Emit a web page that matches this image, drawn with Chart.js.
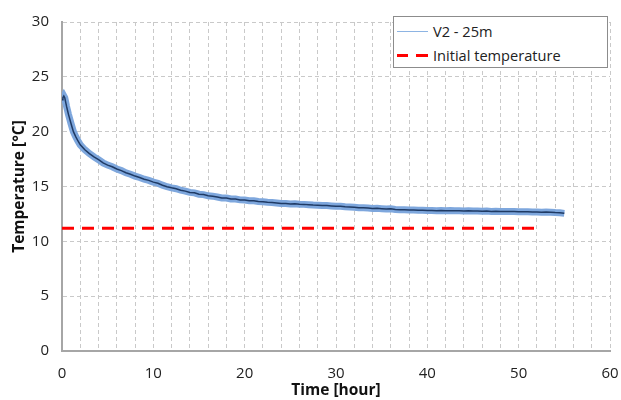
<!DOCTYPE html>
<html>
<head>
<meta charset="utf-8">
<script src="https://cdn.jsdelivr.net/npm/chart.js@4"></script>
<style>
  body { margin: 0; background: #fff; }
  #wrap { position: relative; width: 621px; height: 400px; }
  #legend {
    position: absolute; left: 393px; top: 16px; width: 215px; height: 52px;
    border: 1px solid #8c8c8c; background: #fff; box-sizing: border-box;
    font-family: "Open Sans", sans-serif; font-size: 14.6px; color: #222;
  }
  #legend .row { position: absolute; left: 3px; height: 20px; line-height: 20px; white-space: nowrap; }
  #legend .sample { position: absolute; left: 0; top: 10px; width: 31px; }
  #legend .txt { position: absolute; left: 36px; top: 0; }
</style>
</head>
<body>
<div id="wrap">
  <canvas id="canvas" width="621" height="400"></canvas>
  <div id="legend"></div>
</div>
<script>
// measured temperature, V2 - 25m
var time = [0, 0.1, 0.2, 0.3, 0.4, 0.5, 0.6, 0.7, 0.8, 1, 1.25, 1.5, 1.75, 2, 2.5, 3, 3.5, 4, 4.5, 5,
  5.5, 6, 6.5, 7, 7.5, 8, 8.5, 9, 9.5, 10, 10.5, 11, 11.5, 12, 12.5, 13, 13.5, 14, 14.5, 15,
  15.5, 16, 16.5, 17, 17.5, 18, 18.5, 19, 19.5, 20, 20.5, 21, 21.5, 22, 22.5, 23, 23.5, 24, 24.5, 25,
  25.5, 26, 26.5, 27, 27.5, 28, 28.5, 29, 29.5, 30, 30.5, 31, 31.5, 32, 32.5, 33, 33.5, 34, 34.5, 35,
  35.5, 36, 36.5, 37, 37.5, 38, 38.5, 39, 39.5, 40, 40.5, 41, 41.5, 42, 42.5, 43, 43.5, 44, 44.5, 45,
  45.5, 46, 46.5, 47, 47.5, 48, 48.5, 49, 49.5, 50, 50.5, 51, 51.5, 52, 52.5, 53, 53.5, 54, 54.5, 55];
var temp = [22.9, 23.1, 23.25, 23.1, 22.7, 22.3, 21.95, 21.6, 21.3, 20.7, 20.0, 19.55, 19.15, 18.8, 18.35, 18.0, 17.7, 17.45, 17.15, 16.95,
  16.8, 16.6, 16.45, 16.25, 16.12, 15.95, 15.82, 15.66, 15.56, 15.4, 15.3, 15.12, 14.98, 14.88, 14.8, 14.66, 14.58, 14.46, 14.42, 14.3,
  14.26, 14.15, 14.12, 14.04, 13.96, 13.95, 13.86, 13.85, 13.78, 13.76, 13.71, 13.7, 13.64, 13.6, 13.56, 13.55, 13.5, 13.45, 13.44, 13.4,
  13.43, 13.38, 13.37, 13.34, 13.31, 13.3, 13.26, 13.26, 13.23, 13.2, 13.19, 13.15, 13.13, 13.1, 13.06, 13.06, 13.03, 13.0, 13.01, 12.98,
  12.95, 12.96, 12.91, 12.88, 12.89, 12.86, 12.85, 12.83, 12.84, 12.81, 12.82, 12.8, 12.81, 12.79, 12.8, 12.78, 12.79, 12.77, 12.78, 12.76,
  12.77, 12.75, 12.76, 12.73, 12.74, 12.72, 12.73, 12.71, 12.72, 12.7, 12.7, 12.69, 12.68, 12.68, 12.66, 12.67, 12.65, 12.62, 12.6, 12.55];

// initial ground temperature
var initTime = [0, 52.2];
var initTemp = [11.2, 11.2];

var xTicks = [0, 10, 20, 30, 40, 50, 60];
var yTicks = [0, 5, 10, 15, 20, 25, 30];

var pts = time.map((t, i) => ({ x: t, y: temp[i] }));
var initPts = initTime.map((t, i) => ({ x: t, y: initTemp[i] }));

const FONT = '"Open Sans", sans-serif';
const GRID = '#c9c9c9';
const AXIS = '#a6a6a6';

const ctx = document.getElementById('canvas').getContext('2d');
var chart1 = new Chart(ctx, {
    type: 'line',
    data: {
        datasets: [
            {
                label: 'V2 - 25m trend',
                data: pts,
                borderColor: '#1f3a64',
                borderWidth: 1.5,
                pointRadius: 0,
                fill: false,
                order: 0
            },
            {
                label: 'V2 - 25m',
                data: pts,
                borderColor: '#7ea7dd',
                borderWidth: 7,
                pointRadius: 0,
                fill: false,
                order: 1,
                legendColor: '#8db4e3'
            },
            {
                label: 'Initial temperature',
                data: initPts,
                borderColor: '#ff0000',
                borderWidth: 3,
                borderDash: [12, 8],
                pointRadius: 0,
                fill: false,
                order: 2
            }
        ]
    },
    options: {
        responsive: false,
        animation: false,
        layout: { padding: { top: 18, right: 11, left: 0, bottom: 0 } },
        plugins: {
            legend: { display: false },
            tooltip: { enabled: false }
        },
        scales: {
            x: {
                type: 'linear',
                min: 0,
                max: 60,
                afterFit: s => { s.height = 49; s.paddingLeft = 0; s.paddingRight = 0; },
                afterBuildTicks: s => {
                    var t = [];
                    for (var v = 0; v <= 60; v += 2) t.push({ value: v });
                    s.ticks = t;
                },
                ticks: {
                    autoSkip: false,
                    maxRotation: 0,
                    padding: 14,
                    color: '#222',
                    font: { family: FONT, size: 15 },
                    callback: v => xTicks.includes(v) ? v : ''
                },
                grid: { color: GRID, lineWidth: 1, drawTicks: false },
                border: { color: AXIS, width: 2, dash: [4, 3] },
                title: {
                    display: true,
                    text: 'Time [hour]',
                    color: '#111',
                    padding: { top: 0, bottom: 0 },
                    font: { family: FONT, size: 15.5, weight: 'bold' }
                }
            },
            y: {
                min: 0,
                max: 30,
                afterFit: s => { s.width = 62; },
                afterBuildTicks: s => { s.ticks = yTicks.map(v => ({ value: v })); },
                ticks: {
                    padding: 13,
                    color: '#222',
                    font: { family: FONT, size: 15 }
                },
                grid: { color: GRID, lineWidth: 1, drawTicks: false },
                border: { color: AXIS, width: 2, dash: [4, 3] },
                title: {
                    display: true,
                    text: 'Temperature [°C]',
                    color: '#111',
                    padding: { top: 10, bottom: 0 },
                    font: { family: FONT, size: 15.5, weight: 'bold' }
                }
            }
        }
    }
});

// legend box inside the plot, as in the original
var legendEl = document.getElementById('legend');
chart1.data.datasets.filter(d => d.order > 0).forEach((d, i) => {
    var row = document.createElement('div');
    row.className = 'row';
    row.style.top = (4 + i * 24) + 'px';
    var sample = '<span class="sample" style="border-top:1px solid ' + (d.legendColor || d.borderColor) + '"></span>';
    if (d.borderDash) {
        sample = '<span class="sample" style="height:3px;margin-top:-1px;background:linear-gradient(90deg,#ff0000 0 11px,transparent 11px 19px,#ff0000 19px 31px)"></span>';
    }
    row.innerHTML = sample + '<span class="txt">' + d.label + '</span>';
    legendEl.appendChild(row);
});
</script>
</body>
</html>
